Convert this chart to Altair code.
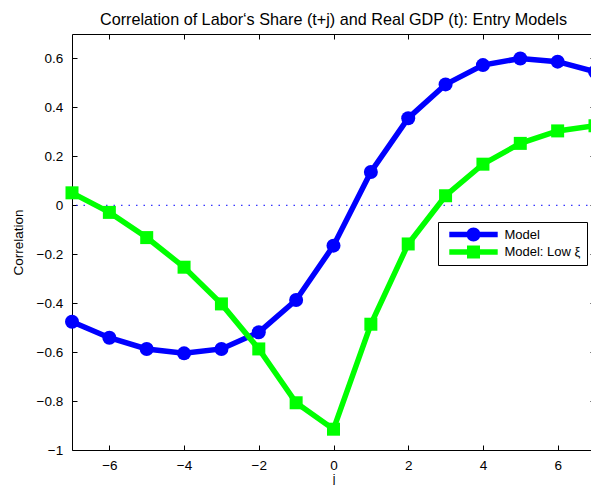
import altair as alt
import pandas as pd

# ---- data ----
j_values = [-7, -6, -5, -4, -3, -2, -1, 0, 1, 2, 3, 4, 5, 6, 7]
model = [-0.476, -0.541, -0.587, -0.605, -0.587, -0.519, -0.387, -0.165,
         0.136, 0.356, 0.494, 0.573, 0.600, 0.587, 0.546]
low_xi = [0.051, -0.029, -0.132, -0.253, -0.403, -0.587, -0.807, -0.915,
          -0.486, -0.158, 0.039, 0.168, 0.253, 0.304, 0.325]
series_names = ["Model", "Model: Low ξ"]
series_colors = ["#0000FF", "#00FF00"]
series_shapes = ["circle", "square"]
series_sizes = [196, 169]
x_ticks = [-6, -4, -2, 0, 2, 4, 6]
y_ticks = [-1, -0.8, -0.6, -0.4, -0.2, 0, 0.2, 0.4, 0.6]
zero_level = [0]

title_text = "Correlation of Labor‘s Share (t+j) and Real GDP (t): Entry Models"
FONT = "Liberation Sans"

rows = []
for name, vals in zip(series_names, [model, low_xi]):
    for j, v in zip(j_values, vals):
        rows.append({"j": j, "corr": v, "series": name})
df = pd.DataFrame(rows)

xscale = alt.Scale(domain=[-7, 7], nice=False, zero=False)
yscale = alt.Scale(domain=[-1, 0.7], nice=False, zero=False)

common_axis = dict(domain=False, grid=False, tickSize=5, offset=-5, tickColor="black",
                   tickWidth=1, labelColor="black", labelFont=FONT, labelFontSize=13.5,
                   titleFont=FONT, titleFontWeight="normal", titleColor="black")

ax_bottom = alt.Axis(orient="bottom", values=x_ticks, format="d", labelPadding=8,
                     title="j", titleFontSize=12, titlePadding=1.5, **common_axis)
ax_top = alt.Axis(orient="top", values=x_ticks, labels=False, title=None, **common_axis)
ax_left = alt.Axis(orient="left", values=y_ticks, format=".1~f", labelPadding=9.3,
                   title="Correlation", titleFontSize=13.5, titlePadding=10.5, **common_axis)
ax_right = alt.Axis(orient="right", values=y_ticks, labels=False, title=None, **common_axis)

zero_rule = alt.Chart(pd.DataFrame({"level": zero_level})).mark_rule(
    color="#0000FF", strokeWidth=1, strokeDash=[1.5, 6]
).encode(y=alt.Y("level:Q", scale=yscale, axis=None))

layers = [zero_rule]
for i, name in enumerate(series_names):
    sub = alt.Chart(df).transform_filter(alt.datum.series == name)
    line = sub.mark_line(color=series_colors[i], strokeWidth=5.5).encode(
        x=alt.X("j:Q", scale=xscale, axis=ax_bottom if i == 0 else None),
        y=alt.Y("corr:Q", scale=yscale, axis=ax_left if i == 0 else None),
    )
    pts = sub.mark_point(shape=series_shapes[i], filled=True, size=series_sizes[i],
                         color=series_colors[i], opacity=1, strokeWidth=0).encode(
        x=alt.X("j:Q", scale=xscale, axis=ax_top if i == 0 else None),
        y=alt.Y("corr:Q", scale=yscale, axis=ax_right if i == 0 else None),
    )
    layers += [line, pts]

# legend symbols: line segment + marker (path units = 5 px at symbolSize 100)
legend_paths = [
    "M-4.84,-0.55H4.84V0.55H-4.84Z M1.4,0A1.4,1.4 0 1,1 -1.4,0A1.4,1.4 0 1,1 1.4,0Z",
    "M-4.84,-0.55H4.84V0.55H-4.84Z M-1.3,-1.3H1.3V1.3H-1.3Z",
]
leg = alt.Legend(title=None, orient="none", legendX=366, legendY=188,
                 strokeColor="black", fillColor="white", padding=6,
                 symbolSize=100, symbolOffset=23, labelOffset=24.4,
                 symbolStrokeWidth=0, labelFont=FONT, labelFontSize=13,
                 labelColor="black", rowPadding=3.5)
legend_layer = alt.Chart(df).transform_filter("false").mark_point(
    filled=True, opacity=1, strokeWidth=0
).encode(
    shape=alt.Shape("series:N", scale=alt.Scale(domain=series_names, range=legend_paths), legend=leg),
    color=alt.Color("series:N", scale=alt.Scale(domain=series_names, range=series_colors), legend=leg),
)
layers.append(legend_layer)

chart = alt.layer(*layers).properties(
    width=523, height=416,
    autosize=alt.AutoSizeParams(type="none"),
    padding={"left": 64, "top": 26, "right": -4, "bottom": 35},
    title=alt.TitleParams(title_text, font=FONT, fontSize=16.2, fontWeight="normal",
                          color="black", anchor="middle", offset=5),
).configure(font=FONT).configure_view(stroke="black", strokeWidth=1)

chart.save("out.html", embed_options={"renderer": "svg", "actions": False})
